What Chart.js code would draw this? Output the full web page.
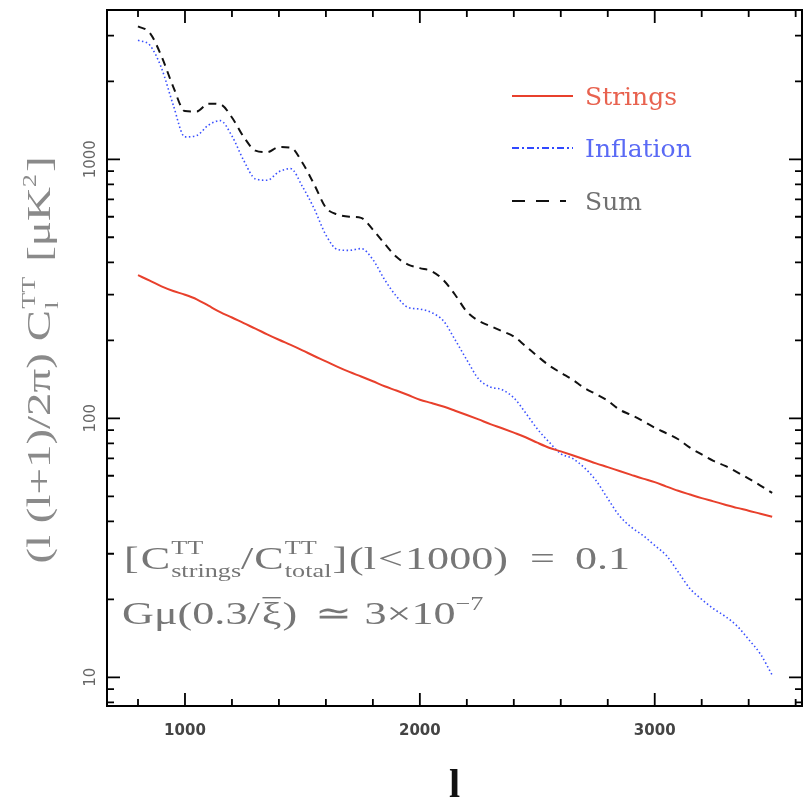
<!DOCTYPE html>
<html><head><meta charset="utf-8">
<script src="https://cdn.jsdelivr.net/npm/chart.js@4/dist/chart.umd.min.js"></script>
<style>html,body{margin:0;padding:0;background:#fff;}canvas{display:block;}</style>
</head><body>
<canvas id="c" width="806" height="798"></canvas>
<script>
// multipole l
const multipoles = [800,850,900,950,1000,1050,1100,1150,1200,1250,1300,1350,1400,1450,1500,1550,1600,1650,1700,1750,1800,1850,1900,1950,2000,2050,2100,2150,2200,2250,2300,2350,2400,2450,2500,2550,2600,2650,2700,2750,2800,2850,2900,2950,3000,3050,3100,3150,3200,3250,3300,3350,3400,3450,3500];
const strings = [357,340,323,310,300,288,272,257,245,233,222,211,201,192,183,174,166,158,151,145,139,133,128,123,118,114.5,111,107,103,99,95,91.5,88,84.5,80.5,77,74.5,72,69.5,67,64.8,62.6,60.5,58.5,56.7,54.5,52.5,50.8,49.2,47.8,46.4,45.1,44,42.8,41.7];
const inflation = [2880,2760,2250,1620,1220,1235,1355,1410,1230,990,840,830,895,920,785,645,510,448,445,452,410,343,296,268,264,256,238,201,168,142,132,129,120,105,91,81,73,70,64.5,57.5,49,42,38,35.3,32.3,29.5,25.5,22,20,18.4,17.2,15.8,14.0,12.3,10.2];
const sum = [3260,3080,2500,1905,1535,1530,1640,1630,1450,1220,1080,1065,1115,1110,970,800,650,612,600,594,535,472,420,392,380,370,342,300,258,238,227,217,207,190,174,160,150,141,131,124,117,108,103,97.5,92,87.5,83,77,72.5,68.5,65.5,62,58.5,55,51.5];
const seriesNames = ['Strings','Inflation','Sum'];
const xMajorTicks = [1000,2000,3000];
const xTickLabels = ['1000','2000','3000'];
const xMinorTicks = [800,1200,1400,1600,1800,2200,2400,2600,2800,3200,3400,3600];
const yMajorTicks = [10,100,1000];
const yTickLabels = ['10','100','1000'];
const yMinorTicks = [8,9,20,30,40,50,60,70,80,90,200,300,400,500,600,700,800,900,2000,3000];

const mk = arr => multipoles.map((l,i)=>({x:l,y:arr[i]}));

// rich text: pieces drawn in sequence, stretched along the text direction by sx
function pieceW(ctx,p,sx){
  if(p.stack){let m=0;for(const q of p.stack){ctx.font=q.f;m=Math.max(m,ctx.measureText(q.t).width);}return m*sx+(p.gap||0);}
  ctx.font=p.f;return ctx.measureText(p.t).width*sx+(p.gap||0);
}
function richWidth(ctx,parts,sx){return parts.reduce((s,p)=>s+pieceW(ctx,p,sx),0);}
function drawRich(ctx,x,y,parts,sx){
  for(const p of parts){
    const items=p.stack?p.stack:[p];
    for(const q of items){
      ctx.font=q.f;ctx.save();ctx.translate(x,y+(q.dy||0));ctx.scale(sx,1);ctx.fillText(q.t,0,0);
      if(q.over){const w=ctx.measureText(q.t).width;ctx.fillRect(0.5,-q.over,w-1,1.4);}
      ctx.restore();
    }
    x+=pieceW(ctx,p,sx);
  }
  return x;
}

const decor = {
  id:'decor',
  afterDatasetsDraw(chart){
    const {ctx, chartArea:a, scales:{x,y}} = chart;
    ctx.save();
    // frame
    ctx.strokeStyle='#000';ctx.lineWidth=2;ctx.setLineDash([]);
    ctx.strokeRect(a.left,a.top,a.right-a.left,a.bottom-a.top);
    ctx.lineWidth=1.8;ctx.beginPath();
    const tx=(v,len)=>{const p=x.getPixelForValue(v);ctx.moveTo(p,a.bottom);ctx.lineTo(p,a.bottom-len);ctx.moveTo(p,a.top);ctx.lineTo(p,a.top+len);};
    const ty=(v,len)=>{const p=y.getPixelForValue(v);ctx.moveTo(a.left,p);ctx.lineTo(a.left+len,p);ctx.moveTo(a.right,p);ctx.lineTo(a.right-len,p);};
    xMajorTicks.forEach(v=>tx(v,13));xMinorTicks.forEach(v=>tx(v,7));
    yMajorTicks.forEach(v=>ty(v,13));yMinorTicks.forEach(v=>ty(v,7));
    ctx.stroke();
    // tick labels
    ctx.fillStyle='#444';ctx.font='bold 15px "DejaVu Sans"';ctx.textAlign='center';ctx.textBaseline='middle';
    xMajorTicks.forEach((v,i)=>ctx.fillText(xTickLabels[i],x.getPixelForValue(v),731));
    ctx.fillStyle='#666';ctx.font='15px "DejaVu Sans"';
    yMajorTicks.forEach((v,i)=>{ctx.save();ctx.translate(91,y.getPixelForValue(v));ctx.rotate(-Math.PI/2);ctx.fillText(yTickLabels[i],0,0);ctx.restore();});
    // x title
    ctx.fillStyle='#111';ctx.font='bold 40px "Liberation Serif"';ctx.textBaseline='alphabetic';
    ctx.fillText('l',(a.left+a.right)/2,797);
    // y title
    ctx.textAlign='left';ctx.fillStyle='#8a8a8a';
    const F='34px "Liberation Serif"', S='19px "Liberation Serif"';
    const yt=[{t:'(l (l+1)/2\u03c0)',f:F,gap:12},{t:'C',f:F,gap:1},{stack:[{t:'TT',f:S,dy:-15},{t:'l',f:S,dy:8}],gap:15},{t:'[\u03bcK',f:F},{t:'2',f:S,dy:-14,gap:2},{t:']',f:F}];
    const ysx=1.38;
    ctx.save();ctx.translate(50,(a.top+a.bottom)/2+2);ctx.rotate(-Math.PI/2);
    const w=richWidth(ctx,yt,ysx);drawRich(ctx,-w/2,0,yt,ysx);ctx.restore();
    // annotation
    ctx.fillStyle='#767676';
    const A='32px "Liberation Serif"', B='19px "Liberation Serif"', asx=1.38;
    drawRich(ctx,124,569,[{t:'[',f:A,gap:2},{t:'C',f:A,gap:1},{stack:[{t:'TT',f:B,dy:-15},{t:'strings',f:B,dy:8}],gap:0},{t:'/',f:A,gap:1},{t:'C',f:A,gap:1},{stack:[{t:'TT',f:B,dy:-15},{t:'total',f:B,dy:8}],gap:1},{t:']',f:A,gap:2},{t:'(l',f:A,gap:2},{t:'<',f:A,gap:2},{t:'1000)',f:A,gap:22},{t:'=',f:A,gap:20},{t:'0.1',f:A}],asx);
    drawRich(ctx,122,624,[{t:'G\u03bc(0.3/',f:A,gap:2},{t:'\u03be',f:A,over:27,gap:1},{t:')',f:A,gap:18},{t:'\u2243',f:A,gap:12},{t:'3\u00d710',f:A},{t:'\u22127',f:B,dy:-14}],asx);
    // legend
    const lx0=512,lx1=573,tx0=585;
    ctx.lineWidth=2;
    ctx.strokeStyle='#e8402c';ctx.setLineDash([]);ctx.beginPath();ctx.moveTo(lx0,96);ctx.lineTo(lx1,96);ctx.stroke();
    ctx.strokeStyle='#3048ff';ctx.setLineDash([7,3,2,3]);ctx.beginPath();ctx.moveTo(lx0,148);ctx.lineTo(lx1,148);ctx.stroke();
    ctx.strokeStyle='#111';ctx.setLineDash([13,11]);ctx.beginPath();ctx.moveTo(lx0,201);ctx.lineTo(lx1-7,201);ctx.stroke();
    ctx.setLineDash([]);
    ctx.font='25px "DejaVu Serif"';ctx.textBaseline='middle';
    ctx.fillStyle='#e8624f';ctx.fillText(seriesNames[0],tx0,98);
    ctx.fillStyle='#5a6af5';ctx.fillText(seriesNames[1],tx0,150);
    ctx.fillStyle='#707070';ctx.fillText(seriesNames[2],tx0,203);
    ctx.restore();
  }
};

new Chart(document.getElementById('c'),{
  type:'line',
  data:{datasets:[
    {label:seriesNames[0],data:mk(strings),borderColor:'#e8402c',borderWidth:2,pointRadius:0,fill:false,cubicInterpolationMode:'monotone'},
    {label:seriesNames[1],data:mk(inflation),borderColor:'#3a50ff',borderWidth:1.6,borderDash:[1.5,2.5],pointRadius:0,fill:false,cubicInterpolationMode:'monotone'},
    {label:seriesNames[2],data:mk(sum),borderColor:'#111',borderWidth:2,borderDash:[8,6],pointRadius:0,fill:false,cubicInterpolationMode:'monotone'}
  ]},
  options:{
    responsive:false,animation:false,devicePixelRatio:1,
    layout:{padding:{left:107,top:10,right:4,bottom:92}},
    plugins:{legend:{display:false},tooltip:{enabled:false}},
    scales:{
      x:{type:'linear',min:668,max:3627,display:false},
      y:{type:'logarithmic',min:7.75,max:3770,display:false}
    }
  },
  plugins:[decor]
});
</script>
</body></html>
